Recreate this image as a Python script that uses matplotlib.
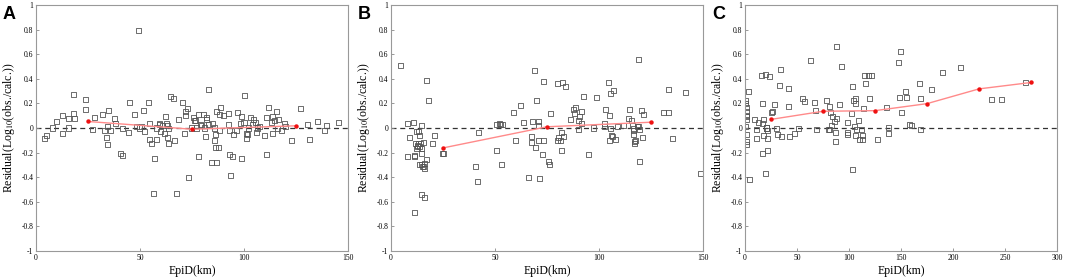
import numpy as np
import matplotlib
matplotlib.use("Agg")
import matplotlib.pyplot as plt

#------------- data -------------#

# panel A
a_x = [4, 5, 7.7, 10, 12.6, 12.6, 15.8, 15.8, 18, 18, 18.5, 24, 24, 27, 28, 31.8, 32.7, 33.7,
       34.3, 34.3, 34.8, 36, 37.7, 38, 40.4, 41.6, 41.6, 44.7, 45, 47.2, 48.5, 49.3, 49.6, 50.7,
       51.5, 52, 54, 54.7, 54.7, 55.7, 56.5, 56.8, 57.9, 57.9, 59.2, 59.5, 59.8, 61, 62, 62.4,
       62.7, 63, 63.3, 63.5, 63.5, 64.6, 66, 66.5, 67.5, 68.4, 70.4, 71.5, 72, 72, 73, 73.2,
       74.7, 75.8, 76.3, 76.8, 77, 77.9, 78, 79, 79.6, 80.3, 81, 81.5, 82, 82.2, 82.7, 83.1,
       84.4, 85, 85.6, 86, 86.3, 86.3, 86.7, 87, 87.6, 88, 88.7, 88.2, 90, 92.4, 92.7, 93, 93,
       93.3, 94.3, 95.1, 96.2, 97, 98.1, 98.8, 99, 100, 100.4, 101, 101.2, 101.5, 102.3, 103.2,
       103.9, 104.7, 105.5, 106.1, 106.7, 107.4, 110, 110.6, 111, 111.9, 113, 113.6, 113.8,
       114.7, 115.4, 115.9, 116.6, 118.2, 119.5, 119.8, 123, 127.2, 130.7, 131.3, 135.3, 138.7,
       139.5, 145.5]
a_y = [-0.083, -0.06, 0, 0.055, 0.1, -0.045, 0, 0.077, 0.27, 0.115, 0.077, 0.235, 0.15, -0.015,
       0.088, 0.11, -0.02, -0.075, -0.134, 0.012, 0.145, -0.02, 0.077, 0.034, -0.205, -0.224,
       -0.007, -0.034, 0.207, 0.112, 0.012, 0.796, 0, 0.01, 0.14, -0.028, 0.207, 0.04, -0.096,
       -0.13, -0.53, -0.245, 0, -0.096, 0.04, 0.028, -0.026, 0.018, -0.045, 0.096, 0.034, -0.075,
       0.018, -0.126, -0.007, 0.253, 0.237, -0.103, -0.53, 0.069, 0.204, -0.045, 0.131, 0.099,
       0.158, -0.403, 0, 0.085, 0.061, 0.058, 0, -0.235, 0.11, 0.031, 0.02, 0.11, 0, -0.07, 0.085,
       0.072, 0.313, 0.031, -0.284, 0.037, 0, -0.1, -0.056, -0.159, -0.278, 0.131, -0.156, -0.023,
       0.17, 0.107, 0.102, 0.115, 0.028, -0.213, -0.018, -0.387, -0.235, -0.056, -0.023, 0.128,
       0.037, -0.251, 0.096, 0.045, 0.265, -0.045, -0.083, -0.056, 0, 0.085, 0.026, 0.072, 0.042,
       -0.037, 0, 0.015, -0.058, 0.083, -0.218, 0.164, 0.042, -0.047, 0.091, 0.058, 0.131, -0.007,
       0.072, -0.023, 0.04, 0.015, -0.099, 0.158, 0.031, -0.094, 0.053, -0.023, 0.023, 0.042]
a_bin_x = [25, 75, 125]
a_bin_y = [0.053, -0.01, 0.018]

# panel B
b_x = [4.7, 7.7, 8, 9.1, 10.7, 11.2, 11.2, 11.1, 11.9, 12.2, 12.5, 12.7, 12.8, 13, 13.3, 13.6,
       13.8, 13.6, 14.4, 14.6, 14.6, 14.6, 14.8, 16.2, 14.9, 15.1, 15.4, 15.7, 16, 16.2, 17, 17.3,
       18, 20.1, 20.7, 24.9, 25.3, 40.7, 41.9, 41.7, 50.5, 50.9, 52.3, 52.6, 53.7, 53.1, 58.9,
       59.7, 62.1, 63.5, 65.9, 67.5, 67.7, 67.9, 69, 69.5, 70, 70.8, 71.1, 71.1, 71.2, 72.8, 73.2,
       73.5, 75.6, 76.2, 76.5, 79.9, 79.9, 80.7, 81.3, 81.8, 82, 82.6, 82.9, 83.9, 86.5, 87.6,
       88.2, 88.6, 90, 90.8, 91.6, 91.8, 92.7, 90.2, 95, 97.4, 98.7, 103.2, 102.7, 102.7, 104.6,
       104.9, 104.9, 105.7, 105.7, 106, 106.5, 107.2, 107.7, 109.1, 111.7, 114.4, 114.6, 115.8,
       116.2, 116.5, 116.5, 116.6, 117, 117.3, 117.6, 118.4, 119, 119.2, 119.4, 119.7, 120.2, 121,
       121.6, 130.9, 133.3, 133.5, 135.2, 141.8, 149]
b_y = [0.509, 0.034, -0.23, -0.077, 0.045, -0.23, -0.22, -0.69, -0.126, -0.026, -0.17, -0.153,
       -0.145, -0.129, -0.031, -0.148, -0.061, -0.294, -0.123, 0.02, -0.17, -0.205, -0.54, -0.568,
       -0.294, -0.31, -0.12, -0.31, -0.33, -0.29, -0.254, 0.389, 0.221, -0.126, -0.064, -0.205,
       -0.208, -0.316, -0.034, -0.438, -0.183, 0.028, 0.037, 0.031, 0.028, -0.3, 0.123, -0.104,
       0.186, 0.042, -0.403, -0.069, -0.12, 0.056, 0.47, -0.162, 0.227, 0.056, 0.023, -0.104,
       -0.409, -0.218, -0.099, 0.375, -0.275, -0.297, 0.118, 0.362, -0.099, -0.075, -0.099,
       -0.186, -0.039, 0.373, -0.066, 0.335, 0.072, 0.148, 0.115, 0.167, 0.064, 0.096, 0.137,
       0.039, 0.26, -0.015, -0.218, 0, 0.25, 0.151, 0.039, 0.015, 0.373, 0.102, -0.099, 0.278,
       -0.007, -0.058, -0.072, 0.308, -0.091, 0.015, 0.023, 0.075, 0.148, 0.064, 0.023, -0.004,
       -0.053, -0.023, -0.129, -0.11, -0.104, 0.015, 0.558, 0.01, -0.275, -0.012, 0.145, -0.08,
       0.112, 0.129, 0.123, 0.313, -0.085, 0.292, -0.373]
b_bin_x = [25, 75, 125]
b_bin_y = [-0.162, 0.01, 0.047]

# panel C
c_x = [0.6, 0.6, 1, 1.3, 1, 1, 0.6, 1, 1.6, 1.6, 1.9, 3.8, 4.2, 9.6, 11.5, 11.5, 12.8, 15.4,
       16.7, 16.7, 17.3, 17.9, 17.9, 19.6, 19.6, 20.2, 20.9, 21.2, 21.5, 22.1, 23.1, 25.7, 26.3,
       27.9, 30.5, 31.1, 33, 34.6, 35.3, 41.4, 42.3, 43, 47.5, 51, 54.9, 56.8, 62.6, 66.4, 67.4,
       69, 78.6, 80.5, 81.2, 81.5, 82.5, 83.7, 83.1, 86.3, 86.6, 86.9, 87.9, 88.2, 90.8, 92.4,
       98.2, 98.2, 98.5, 102.3, 103.3, 103.6, 103.9, 105.2, 105.8, 106.5, 106.2, 107.2, 109.4,
       109.7, 112.3, 112.6, 112.9, 113.9, 115.2, 115.8, 118.4, 120, 121.3, 127.7, 136.3, 137.6,
       137.6, 147.9, 149.2, 148.9, 150.5, 154, 155, 157.8, 160.4, 168.1, 168.4, 168.7, 179.3,
       189.9, 207.6, 237.4, 247, 269.8]
c_y = [0.225, 0.198, 0.165, 0.136, 0.09, 0.068, 0.016, -0.052, -0.109, -0.133, 0.103, 0.296,
       -0.418, 0.073, -0.014, -0.087, 0.041, 0.426, 0.201, 0.033, -0.206, 0.073, -0.062, 0.434,
       -0.372, 0, 0, -0.022, -0.084, -0.182, 0.418, 0.125, 0.136, 0.193, -0.003, -0.054, 0.347,
       0.478, -0.073, 0.323, 0.171, -0.071, -0.043, -0.008, 0.236, 0.214, 0.548, 0.204, 0.144,
       -0.016, 0.225, -0.016, -0.016, 0.171, 0.13, 0.095, 0.019, 0.049, -0.038, -0.109, 0.076,
       0.663, 0.188, 0.497, 0.041, -0.035, -0.054, 0.12, 0.34, -0.34, 0.225, 0.014, 0.198, 0.236,
       -0.057, -0.014, 0.063, -0.095, -0.011, -0.065, -0.095, 0.16, 0.426, 0.361, 0.426, 0.236,
       0.426, -0.09, 0.163, 0.005, -0.041, 0.53, 0.624, 0.247, 0.122, 0.299, 0.25, 0.03, 0.024,
       0.364, 0.236, -0.016, 0.309, 0.448, 0.488, 0.231, 0.231, 0.372]
c_bin_x = [25, 75, 125, 175, 225, 275]
c_bin_y = [0.07, 0.136, 0.141, 0.198, 0.318, 0.37]

panels = [
    ("A", a_x, a_y, a_bin_x, a_bin_y, 150, [0, 50, 100, 150]),
    ("B", b_x, b_y, b_bin_x, b_bin_y, 150, [0, 50, 100, 150]),
    ("C", c_x, c_y, c_bin_x, c_bin_y, 300, [0, 50, 100, 150, 200, 250, 300]),
]

plt.rcParams['font.family'] = ['Liberation Serif', 'DejaVu Serif']
plt.rcParams['mathtext.fontset'] = 'stix'

fig = plt.figure(figsize=(10.65, 2.8), dpi=100)
lefts = [36 / 1065, 391 / 1065, 745 / 1065]
width = 312 / 1065
bottom = 29 / 280
height = 246 / 280


def tick_fmt(v):
    if abs(v) < 1e-9:
        return "0"
    if float(v).is_integer():
        return "%d" % v
    return ("%.1f" % v)


for (letter, x, y, bx, by, xmax, xticks), left in zip(panels, lefts):
    ax = fig.add_axes([left, bottom, width, height])
    ax.scatter(x, y, marker="s", s=13, facecolors="none", edgecolors="#555555",
               linewidths=0.6, zorder=2)
    ax.axhline(0, color="#333333", ls=(0, (4, 3)), lw=0.9, zorder=1)
    ax.plot(bx, by, color="#ff8a8a", lw=1.0, zorder=3)
    ax.plot(bx, by, "o", color="#ee1111", ms=3.2, mec="none", zorder=4)

    ax.set_xlim(0, xmax)
    ax.set_ylim(-1, 1)
    ax.set_xticks(xticks)
    yt = np.round(np.arange(-1, 1.01, 0.2), 1)
    ax.set_yticks(yt)
    ax.set_yticklabels([tick_fmt(v) for v in yt])
    ax.tick_params(direction="in", length=2.5, width=0.6, labelsize=5.5, color="#888888", pad=2)
    for sp in ax.spines.values():
        sp.set_color("#999999")
        sp.set_linewidth(0.8)
    ax.set_xlabel("EpiD(km)", fontsize=8.5, labelpad=2)
    ax.set_ylabel(r"Residual(Log$_{10}$(obs./calc.))", fontsize=8.5, labelpad=3)

    fig.text(left - 33 / 1065, 1 - 19 / 280, letter, fontsize=13, fontweight="bold",
             family=["Liberation Sans", "DejaVu Sans"], ha="left", va="baseline")

fig.savefig("out.png", dpi=100)
